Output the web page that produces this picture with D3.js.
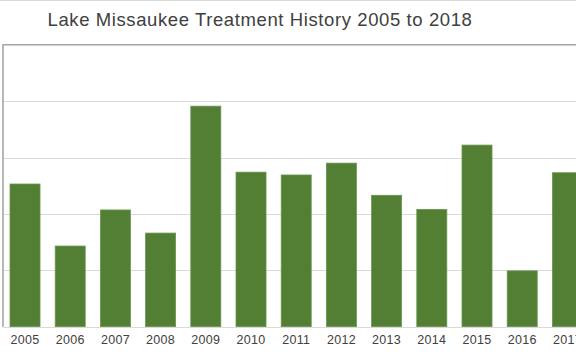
<!DOCTYPE html>
<html>
<head>
<meta charset="utf-8">
<script src="https://cdn.jsdelivr.net/npm/d3@7"></script>
<style>
  html, body { margin: 0; padding: 0; background: #fff; overflow: hidden; }
  svg { display: block; }
  .grid line { stroke: #d9d9d9; stroke-width: 1; }
  .x-axis text { font-family: "Liberation Sans", Arial, sans-serif; font-size: 12.5px; fill: #404040; letter-spacing: 0.3px; }
</style>
</head>
<body>
<div id="chart"></div>
<script>
  // chart values (one gridline = 10 units; axis labels are cropped away)
  var years = ["2005", "2006", "2007", "2008", "2009", "2010", "2011",
               "2012", "2013", "2014", "2015", "2016", "2017", "2018"];
  var treated = [25.3, 14.3, 20.7, 16.6, 39.1, 27.4, 26.9,
                 29.0, 23.3, 20.8, 32.2, 9.9, 27.3, 25.0];  // 2018 sits off the right edge
  var yTicks = [0, 10, 20, 30, 40, 50];
  var title = "Lake Missaukee Treatment History 2005 to 2018";

  (function () {
    var W = 576, H = 354;
    var mL = 3, mT = 44.7, mB = 326.7;
    var step = 45.2;

    var svg = d3.select("#chart").append("svg").attr("width", W).attr("height", H);

    // outer chart frame line at the very top
    svg.append("line").attr("x1", 0).attr("x2", W).attr("y1", 0.5).attr("y2", 0.5)
      .attr("stroke", "#d9d9d9").attr("stroke-width", 1);

    svg.append("text")
      .attr("x", 260).attr("y", 26).attr("text-anchor", "middle")
      .attr("font-family", "'Liberation Sans', Arial, sans-serif").attr("font-size", 18.5)
      .attr("letter-spacing", 0.6)
      .attr("fill", "#404040")
      .text(title);

    var x = d3.scaleBand().domain(years)
      .range([mL, mL + step * (years.length - 0.336 + 0.31)])
      .paddingInner(0.336).paddingOuter(0.155);
    var y = d3.scaleLinear().domain([0, 50]).range([mB, mT]);

    // gridlines
    svg.append("g").attr("class", "grid").selectAll("line").data(yTicks.slice(1, -1)).enter().append("line")
      .attr("x1", mL).attr("x2", W)
      .attr("y1", function (d) { return Math.round(y(d)) + 0.5; })
      .attr("y2", function (d) { return Math.round(y(d)) + 0.5; });

    // bars
    svg.append("g").selectAll("rect").data(years).enter().append("rect")
      .attr("x", function (d) { return x(d); })
      .attr("width", x.bandwidth())
      .attr("y", function (d, i) { return y(treated[i]); })
      .attr("height", function (d, i) { return y(0) - y(treated[i]); })
      .attr("fill", "#527f33")
      .attr("stroke", "#6b9550").attr("stroke-width", 0.8);

    // baseline
    svg.append("line").attr("x1", mL).attr("x2", W)
      .attr("y1", Math.round(mB) + 0.5).attr("y2", Math.round(mB) + 0.5)
      .attr("stroke", "#d9d9d9").attr("stroke-width", 1);

    // plot frame: top and left edges
    svg.append("path")
      .attr("d", "M" + mL + "," + mB + "V" + mT + "H" + W)
      .attr("fill", "none").attr("stroke", "#a6a6a6").attr("stroke-width", 1.6);

    // category labels
    var xAxis = svg.append("g").attr("class", "x-axis")
      .attr("transform", "translate(0," + mB + ")")
      .call(d3.axisBottom(x).tickSize(0).tickPadding(8));
    xAxis.select(".domain").remove();
  })();
</script>
</body>
</html>
